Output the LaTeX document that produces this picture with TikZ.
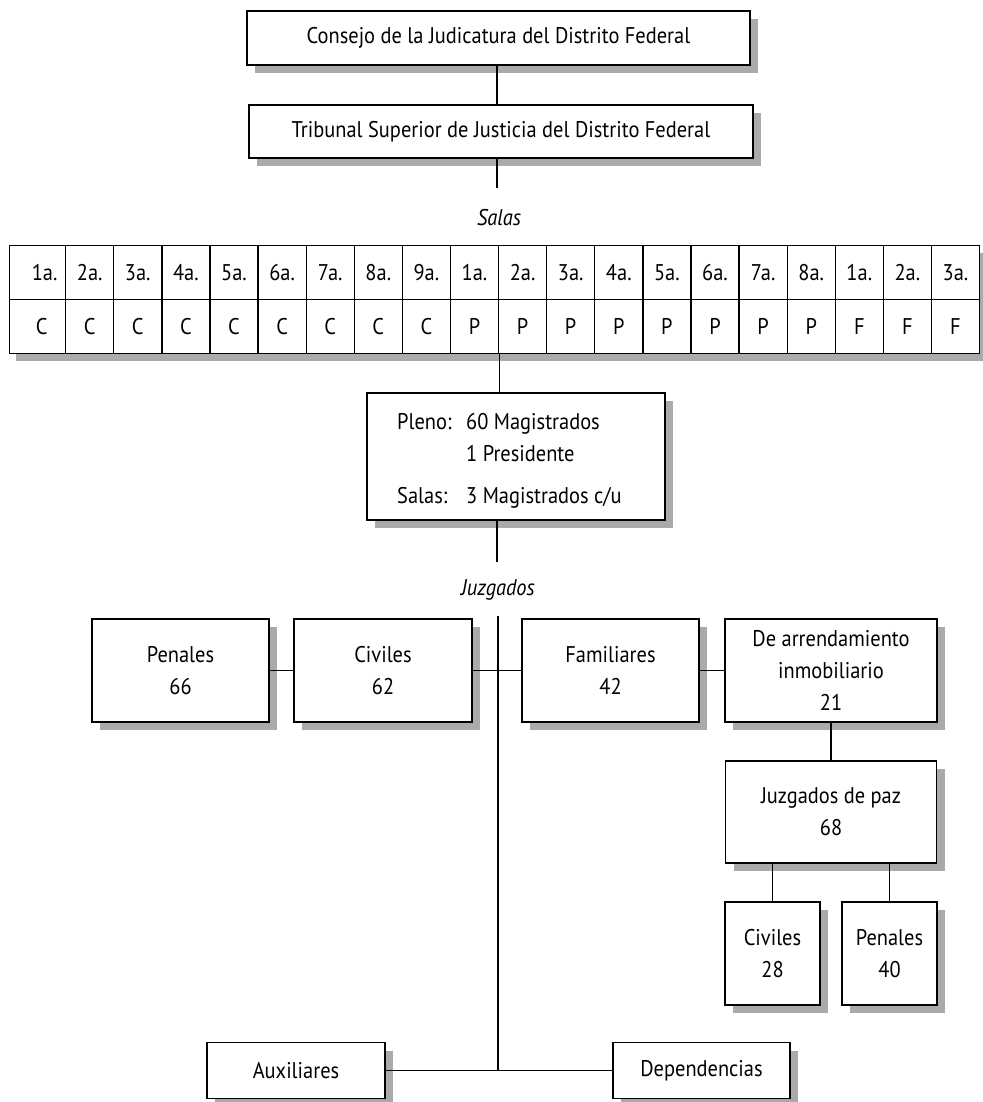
\documentclass[tikz,border=0pt]{standalone}
\usepackage{fontspec}
\setmainfont[FakeStretch=0.9]{PT Sans}
\usetikzlibrary{shadows}
\definecolor{shadowgray}{HTML}{AAAAAA}
\begin{document}
\begin{tikzpicture}[x=1pt,y=-1pt,
  txt/.style={font=\fontsize{22.7}{32}\selectfont},
  box/.style={txt, draw=black, line width=1.3pt, fill=white,
    general shadow={fill=shadowgray, shadow xshift=8pt, shadow yshift=-8pt},
    inner sep=0pt, align=center},
  cell/.style={txt, draw=black, line width=1.3pt, fill=white, inner sep=0pt,
    minimum height=54pt, anchor=north west},
  lbl/.style={font=\fontsize{22.7}{32}\selectfont\itshape, inner sep=0pt},
  conn/.style={line width=1.3pt}]
\useasboundingbox[fill=white] (0,0) rectangle (982,1102);
\coordinate (spine) at (497,0);

% top boxes
\node[box, minimum width=503pt, minimum height=54pt] (consejo) at (498.5,38) {Consejo de la Judicatura del Distrito Federal};
\node[box, minimum width=504pt, minimum height=53pt] (tribunal) at (501,131.5) {Tribunal Superior de Justicia del Distrito Federal};
\coordinate (tribend) at (497,188);
\draw[conn] (spine |- consejo.south) -- (spine |- tribunal.north);
\draw[conn] (spine |- tribunal.south) -- (tribend);

\node[lbl] (salas) at (499,218) {Salas};

% table
\fill[shadowgray] (16,253) rectangle (987,361);
\foreach \t [count=\i from 0] in {1a.,2a.,3a.,4a.,5a.,6a.,7a.,8a.,9a.,1a.,2a.,3a.,4a.,5a.,6a.,7a.,8a.,1a.,2a.,3a.}{
  \pgfmathsetmacro\xl{ifthenelse(\i==0,9,65+(\i-1)*48.1)}
  \pgfmathsetmacro\cw{ifthenelse(\i==0,56,48.1)}
  \ifnum\i=0
    \node[cell, minimum width=\cw pt] (s\i) at (\xl,245) {\hspace*{14pt}\t};
  \else
    \node[cell, minimum width=\cw pt] (s\i) at (\xl,245) {\t};
  \fi
}
\foreach \t [count=\i from 0] in {C,C,C,C,C,C,C,C,C,P,P,P,P,P,P,P,P,F,F,F}{
  \pgfmathsetmacro\xl{ifthenelse(\i==0,9,65+(\i-1)*48.1)}
  \pgfmathsetmacro\cw{ifthenelse(\i==0,56,48.1)}
  \ifnum\i=0
    \node[cell, minimum width=\cw pt] (c\i) at (\xl,299) {\hspace*{8pt}\t};
  \else
    \node[cell, minimum width=\cw pt] (c\i) at (\xl,299) {\t};
  \fi
}

% pleno
\node[box, minimum width=298pt, minimum height=127pt] (pleno) at (516,456.5) {};
\draw[conn] (c9.south east) -- (c9.south east |- pleno.north);
\node[txt, anchor=base west, inner sep=0pt] (pl1) at (397,429) {Pleno:};
\node[txt, anchor=base west, inner sep=0pt] (pl2) at (466,429) {60 Magistrados};
\node[txt, anchor=base west, inner sep=0pt] (pl3) at (466,461) {1 Presidente};
\node[txt, anchor=base west, inner sep=0pt] (pl4) at (397,503) {Salas:};
\node[txt, anchor=base west, inner sep=0pt] (pl5) at (466,503) {3 Magistrados c/u};
\coordinate (plend) at (497,562);
\draw[conn] (spine |- pleno.south) -- (plend);

\node[lbl] (juzg) at (498,590) {Juzgados};

% juzgados
\node[box, minimum width=177pt, minimum height=103pt] (pen) at (180.5,670.5) {Penales\\66};
\node[box, minimum width=178pt, minimum height=103pt] (civ) at (383,670.5) {Civiles\\62};
\node[box, minimum width=177pt, minimum height=103pt] (fam) at (610.5,670.5) {Familiares\\42};
\node[box, minimum width=212pt, minimum height=103pt] (arr) at (831,670.5) {De arrendamiento\\inmobiliario\\21};
\node[box, minimum width=211pt, minimum height=102pt] (paz) at (831,812) {Juzgados de paz\\68};
\node[box, minimum width=95pt, minimum height=103pt] (civ2) at (772.5,953.5) {Civiles\\28};
\node[box, minimum width=95pt, minimum height=103pt] (pen2) at (889.5,953.5) {Penales\\40};
\node[box, minimum width=178pt, minimum height=56pt] (aux) at (296,1070.5) {Auxiliares};
\node[box, minimum width=177pt, minimum height=56pt] (dep) at (701.5,1070.5) {Dependencias};

\coordinate (jtop) at (498,616);
\draw[conn] (jtop) -- (jtop |- aux.east);
\draw[conn] (pen.east) -- (civ.west);
\draw[conn] (civ.east) -- (fam.west);
\draw[conn] (fam.east) -- (arr.west);
\draw[conn] (arr.south) -- (paz.north);
\draw[conn] (civ2.north |- paz.south) -- (civ2.north);
\draw[conn] (pen2.north |- paz.south) -- (pen2.north);
\draw[conn] (aux.east) -- (dep.west);
\end{tikzpicture}
\end{document}
